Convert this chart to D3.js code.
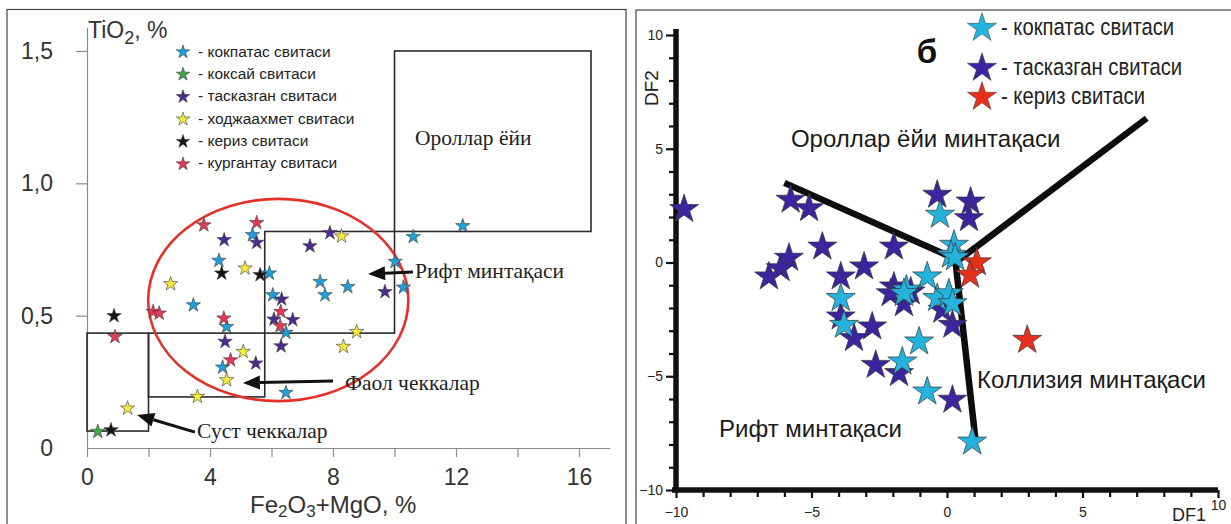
<!DOCTYPE html>
<meta charset="utf-8">
<script src="https://d3js.org/d3.v7.min.js"></script>
<style>
  body { margin: 0; background: #fff; }
  text { font-family: "Liberation Sans", Arial, sans-serif; }
</style>
<div id="chart"></div>
<script>

// ---- left panel: TiO2 vs Fe2O3+MgO ----
var kokpatasL = [[5.38,0.805],[10.61,0.798],[12.22,0.839],[4.29,0.708],[5.93,0.66],[7.58,0.628],[7.74,0.578],[8.48,0.609],[10.02,0.704],[10.29,0.607],[6.04,0.578],[3.46,0.54],[4.54,0.458],[6.47,0.436],[4.41,0.305],[6.47,0.209]];
var koksaiL = [[0.35,0.062]];
var taskazganL = [[4.46,0.786],[5.52,0.776],[7.25,0.763],[7.90,0.813],[9.69,0.59],[6.33,0.562],[6.08,0.486],[6.69,0.484],[6.31,0.385],[4.49,0.402],[5.49,0.32]];
var khodjaL = [[1.32,0.15],[2.72,0.62],[5.14,0.679],[8.28,0.80],[5.08,0.364],[4.54,0.257],[3.59,0.194],[8.77,0.439],[8.34,0.383]];
var kerizL = [[0.88,0.499],[0.78,0.068],[4.38,0.66],[5.63,0.654]];
var kurgantauL = [[3.80,0.842],[5.52,0.851],[2.15,0.515],[2.35,0.509],[0.91,0.42],[4.45,0.49],[6.28,0.461],[6.30,0.515],[4.67,0.332]];

var legendL = ["- кокпатас свитаси", "- коксай свитаси", "- тасказган свитаси", "- ходжаахмет свитаси", "- кериз свитаси", "- кургантау свитаси"];
var colorsL = ["#1f9fd8", "#3fa64a", "#4b2c8c", "#f4ec3c", "#141414", "#e23a55"];

// field boxes [x0, y0, x1, y1]
var boxesL = [[0,0.064,2,0.434],[2,0.193,5.78,0.434],[5.78,0.434,10,0.818],[10,0.818,16.39,1.5]];
var ellipseL = {cx: 6.22, cy: 0.559, rx: 4.23, ry: 0.382};
var xTicksL = [0,2,4,6,8,10,12,14,16];
var yTicksL = [0,0.5,1,1.5];

// annotations: text, text position, arrow tail, arrow tip
var notesL = [
  {t: "Ороллар ёйи", at: [10.67,1.145]},
  {t: "Рифт минтақаси", at: [10.67,0.642], from: [10.6,0.665], to: [9.14,0.657]},
  {t: "Фаол чеккалар", at: [8.39,0.219], from: [8.0,0.253], to: [5.07,0.246]},
  {t: "Суст чеккалар", at: [3.58,0.038], from: [3.51,0.06], to: [1.63,0.125]}
];

// ---- right panel: DF1 vs DF2 ----
var kokpatasR = [[-0.26,2.09],[0.26,0.77],[0.15,0.33],[0.3,0.22],[-0.73,-0.62],[-3.92,-1.57],[-3.80,-2.75],[-1.5,-1.2],[-1.59,-1.35],[-0.36,-1.57],[0.07,-1.36],[0.2,-1.8],[-1.03,-3.48],[-1.65,-4.36],[-0.73,-5.68],[0.93,-7.88]];
var taskazganR = [[-9.70,2.34],[-5.77,2.75],[-5.09,2.38],[-4.60,0.69],[-5.83,0.2],[-6.14,-0.26],[-6.57,-0.62],[-1.96,0.69],[-0.36,2.97],[0.87,2.67],[0.81,1.94],[-3.06,-0.18],[-3.92,-0.62],[-1.96,-1.06],[-2.08,-1.36],[-1.59,-1.8],[-1.34,-1.28],[-3.92,-2.38],[-2.76,-2.82],[-3.43,-3.33],[-2.63,-4.51],[-1.77,-4.87],[0.2,-6.04],[0.2,-2.75],[-0.17,-2.09]];
var kerizR = [[1.1,0.0],[0.85,-0.55],[2.96,-3.41]];

var legendR = ["- кокпатас свитаси", "- тасказган свитаси", "- кериз свитаси"];
var colorsR = ["#24b3dc", "#3b249e", "#e6301c"];

var linesR = [[[-6.0,3.5],[0.32,0.15]], [[0.45,0.12],[7.37,6.34]], [[0.3,0.18],[1.06,-7.88]]];
var notesR = [
  {t: "Ороллар ёйи минтақаси", at: [-5.76,5.09]},
  {t: "Коллизия минтақаси", at: [1.11,-5.52]},
  {t: "Рифт минтақаси", at: [-8.41,-7.66]}
];
var majorTicksR = [-10,-5,0,5,10];
var minorTicksR = d3.range(-9, 10).filter(function(d) { return d % 5 !== 0; });

var svg = d3.select("#chart").append("svg")
  .attr("width", 1231)
  .attr("height", 524);

var star = function(size) { return d3.symbol().type(d3.symbolStar).size(size)(); };
var comma = function(d) { return d === 0 ? "0" : d3.format(".1f")(d).replace(".", ","); };

// panel frames
svg.append("rect").attr("x", 7).attr("y", 9.5).attr("width", 619).attr("height", 530)
  .attr("fill", "none").attr("stroke", "#444").attr("stroke-width", 1.2);
svg.append("rect").attr("x", 636).attr("y", 10).attr("width", 610).attr("height", 530)
  .attr("fill", "none").attr("stroke", "#444").attr("stroke-width", 1.2);

// ================= left =================
var xL = d3.scaleLinear().domain([0, 17]).range([87, 87 + 17 * 30.75]);
var yL = d3.scaleLinear().domain([0, 1.59]).range([448, 448 - 1.59 * 264.7]);
var gl = svg.append("g");

var axL = gl.append("g")
  .attr("transform", "translate(0," + yL(0) + ")")
  .call(d3.axisBottom(xL).tickValues(xTicksL).tickSize(9).tickSizeOuter(0).tickPadding(12)
    .tickFormat(function(d) { return d % 4 === 0 ? d : ""; }));
var ayL = gl.append("g")
  .attr("transform", "translate(" + xL(0) + ",0)")
  .call(d3.axisLeft(yL).tickValues(yTicksL).tickSize(11).tickSizeOuter(0).tickPadding(23)
    .tickFormat(comma));
[axL, ayL].forEach(function(a) {
  a.selectAll("path, line").attr("stroke", "#8a8a8a").attr("stroke-width", 1.2);
  a.selectAll("text").attr("fill", "#333").style("font-size", "23px");
});
ayL.selectAll(".tick").filter(function(d) { return d === 0; }).select("line").remove();

gl.append("text").attr("x", 88).attr("y", 38).attr("fill", "#333").style("font-size", "23px")
  .call(function(t) {
    t.append("tspan").text("TiO");
    t.append("tspan").attr("dy", 6).style("font-size", "18px").text("2");
    t.append("tspan").attr("dy", -6).text(", %");
  });
gl.append("text").attr("x", 250).attr("y", 513).attr("fill", "#333").style("font-size", "24px")
  .call(function(t) {
    t.append("tspan").text("Fe");
    t.append("tspan").attr("dy", 4).style("font-size", "17px").text("2");
    t.append("tspan").attr("dy", -4).text("O");
    t.append("tspan").attr("dy", 4).style("font-size", "17px").text("3");
    t.append("tspan").attr("dy", -4).text("+MgO, %");
  });

gl.selectAll("rect.box").data(boxesL).enter().append("rect")
  .attr("class", "box")
  .attr("x", function(d) { return xL(d[0]); })
  .attr("y", function(d) { return yL(d[3]); })
  .attr("width", function(d) { return xL(d[2]) - xL(d[0]); })
  .attr("height", function(d) { return yL(d[1]) - yL(d[3]); })
  .attr("fill", "none").attr("stroke", "#2a2a2a").attr("stroke-width", 1.6);

gl.append("ellipse")
  .attr("cx", xL(ellipseL.cx)).attr("cy", yL(ellipseL.cy))
  .attr("rx", xL(ellipseL.rx) - xL(0)).attr("ry", yL(0) - yL(ellipseL.ry))
  .attr("fill", "none").attr("stroke", "#e5302a").attr("stroke-width", 2.6);

notesL.forEach(function(n) {
  gl.append("text").attr("x", xL(n.at[0])).attr("y", yL(n.at[1]))
    .style("font-family", "'Liberation Serif', 'Times New Roman', serif")
    .style("font-size", "21.5px").attr("fill", "#222").text(n.t);
  if (n.from) {
    var x0 = xL(n.from[0]), y0 = yL(n.from[1]), x1 = xL(n.to[0]), y1 = yL(n.to[1]);
    var ang = Math.atan2(y1 - y0, x1 - x0), len = 17, half = 7;
    var bx = x1 - len * Math.cos(ang), by = y1 - len * Math.sin(ang);
    gl.append("line").attr("x1", x0).attr("y1", y0).attr("x2", bx).attr("y2", by)
      .attr("stroke", "#111").attr("stroke-width", 3);
    gl.append("path")
      .attr("d", "M" + x1 + "," + y1 +
        "L" + (bx + half * Math.sin(ang)) + "," + (by - half * Math.cos(ang)) +
        "L" + (bx - half * Math.sin(ang)) + "," + (by + half * Math.cos(ang)) + "Z")
      .attr("fill", "#111");
  }
});

var seriesL = [kokpatasL, koksaiL, taskazganL, khodjaL, kerizL, kurgantauL];
[0, 2, 3, 5, 4, 1].forEach(function(i) {
  gl.append("g").selectAll("path").data(seriesL[i]).enter().append("path")
    .attr("d", star(64))
    .attr("transform", function(d) { return "translate(" + xL(d[0]) + "," + yL(d[1]) + ")"; })
    .attr("fill", colorsL[i]).attr("stroke", "#3a3a3a").attr("stroke-width", 0.6);
});

var lgL = gl.append("g");
legendL.forEach(function(s, i) {
  lgL.append("path").attr("d", star(56))
    .attr("transform", "translate(183," + (52 + i * 22.4) + ")")
    .attr("fill", colorsL[i]).attr("stroke", "#3a3a3a").attr("stroke-width", 0.6);
  lgL.append("text").attr("x", 198).attr("y", 57 + i * 22.2)
    .style("font-size", "15.5px").attr("fill", "#222").text(s);
});

// ================= right =================
var xR = d3.scaleLinear().domain([-10, 10]).range([676, 1218]);
var yR = d3.scaleLinear().domain([-10, 10]).range([490, 35]);
var gr = svg.append("g");

var styleAxis = function(a) {
  a.selectAll("line").attr("stroke", "#111").attr("stroke-width", 2.2);
  a.selectAll("text").attr("fill", "#222").style("font-size", "14px");
};
gr.append("g").attr("transform", "translate(0," + yR(-10) + ")")
  .call(d3.axisBottom(xR).tickValues(minorTicksR).tickSize(7).tickFormat(""))
  .call(styleAxis).select(".domain").remove();
gr.append("g").attr("transform", "translate(" + xR(-10) + ",0)")
  .call(d3.axisLeft(yR).tickValues(minorTicksR).tickSize(7).tickFormat(""))
  .call(styleAxis).select(".domain").remove();
var axR = gr.append("g").attr("transform", "translate(0," + yR(-10) + ")")
  .call(d3.axisBottom(xR).tickValues(majorTicksR).tickSize(8).tickPadding(9).tickSizeOuter(0))
  .call(styleAxis);
var ayR = gr.append("g").attr("transform", "translate(" + xR(-10) + ",0)")
  .call(d3.axisLeft(yR).tickValues(majorTicksR).tickSize(10).tickPadding(3).tickSizeOuter(0))
  .call(styleAxis);
axR.select(".domain").attr("stroke", "#111").attr("stroke-width", 5.5).attr("d", "M" + (xR(-10) - 4) + ",0H" + xR(10));
ayR.select(".domain").attr("stroke", "#111").attr("stroke-width", 5.5).attr("d", "M0," + (yR(-10) + 2.5) + "V" + (yR(10) - 6));
axR.selectAll(".tick").filter(function(d) { return d === 10; }).select("text").attr("dy", "0.2em");

gr.append("text").attr("transform", "translate(658,88) rotate(-90)")
  .attr("text-anchor", "middle").style("font-size", "19px").attr("fill", "#222").text("DF2");
gr.append("text").attr("x", 1172).attr("y", 521)
  .style("font-size", "18px").attr("fill", "#222").text("DF1");

gr.append("text").attr("x", 927).attr("y", 63).attr("text-anchor", "middle")
  .style("font-size", "33px").style("font-weight", "bold").attr("fill", "#111").text("б");

gr.selectAll("path.bound").data(linesR).enter().append("path")
  .attr("class", "bound")
  .attr("d", d3.line().x(function(d) { return xR(d[0]); }).y(function(d) { return yR(d[1]); }))
  .attr("fill", "none").attr("stroke", "#0d0d0d").attr("stroke-width", 6.5);

notesR.forEach(function(n) {
  gr.append("text").attr("x", xR(n.at[0])).attr("y", yR(n.at[1]))
    .style("font-size", "24px").attr("fill", "#1a1a1a").text(n.t);
});

var seriesR = [kokpatasR, taskazganR, kerizR];
[1, 0, 2].forEach(function(i) {
  gr.append("g").selectAll("path").data(seriesR[i]).enter().append("path")
    .attr("d", star(260))
    .attr("transform", function(d) { return "translate(" + xR(d[0]) + "," + yR(d[1]) + ")"; })
    .attr("fill", colorsR[i]).attr("stroke", "#333").attr("stroke-width", 0.7);
});

var legendYR = [28, 68, 97];
legendR.forEach(function(s, i) {
  gr.append("path").attr("d", star(265))
    .attr("transform", "translate(982," + legendYR[i] + ")")
    .attr("fill", colorsR[i]).attr("stroke", "#333").attr("stroke-width", 0.5);
  gr.append("text").attr("transform", "translate(1001," + (legendYR[i] + 7) + ") scale(0.92,1.05)")
    .style("font-size", "22px").attr("fill", "#222").text(s);
});

</script>
